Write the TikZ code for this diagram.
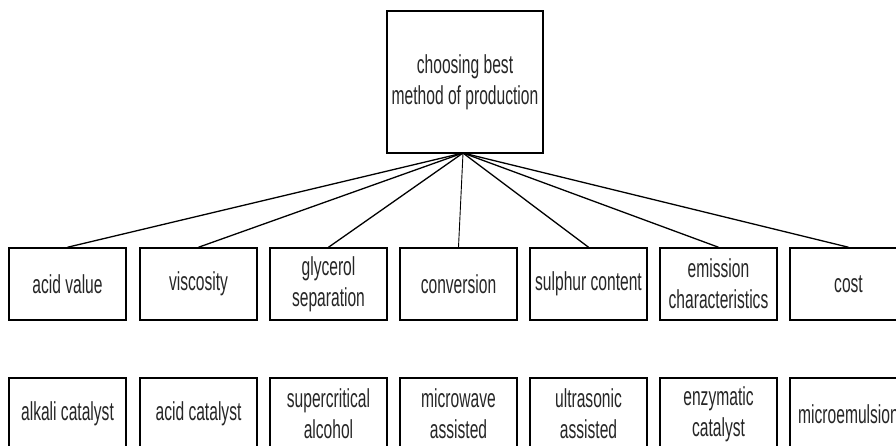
\documentclass[tikz,border=0pt]{standalone}
\usepackage{fontspec}
\setmainfont{Liberation Sans}[FakeStretch=0.6]
\begin{document}
\begin{tikzpicture}[x=1pt,y=-1pt,
  box/.style={draw=black,line width=1.5pt,minimum width=117pt,minimum height=72pt,
    inner sep=0pt,align=center,text=black!85,font=\fontsize{26}{31}\selectfont},
  topbox/.style={box,minimum width=156pt,minimum height=142pt},
  link/.style={draw=black,line width=1.3pt}]
\useasboundingbox (0,0) rectangle (896,445);
\clip (0,0) rectangle (896,445);
\fill[white] (0,0) rectangle (896,445);
\node[topbox] (top) at (465,82) {choosing best\\method of production};
\coordinate (hub) at (463,153);
\node[box] (m1) at (67.5,284) {acid value};
\node[box] (m2) at (198.5,284) {viscosity};
\node[box] (m3) at (328.5,284) {glycerol\\separation};
\node[box] (m4) at (458.5,284) {conversion};
\node[box] (m5) at (588.5,284) {sulphur content};
\node[box] (m6) at (718.5,284) {emission\\characteristics};
\node[box] (m7) at (848.5,284) {cost};
\node[box] (b1) at (67.5,414) {alkali catalyst};
\node[box] (b2) at (198.5,414) {acid catalyst};
\node[box] (b3) at (328.5,414) {supercritical\\alcohol};
\node[box] (b4) at (458.5,414) {microwave\\assisted};
\node[box] (b5) at (588.5,414) {ultrasonic\\assisted};
\node[box] (b6) at (718.5,414) {enzymatic\\catalyst};
\node[box] (b7) at (848.5,414) {microemulsion};
\foreach \m in {m1,m2,m3,m5,m6,m7} \draw[link] (hub) -- (\m.north);
\draw[draw=black,line width=0.9pt] (hub) -- (m4.north);
\end{tikzpicture}
\end{document}
